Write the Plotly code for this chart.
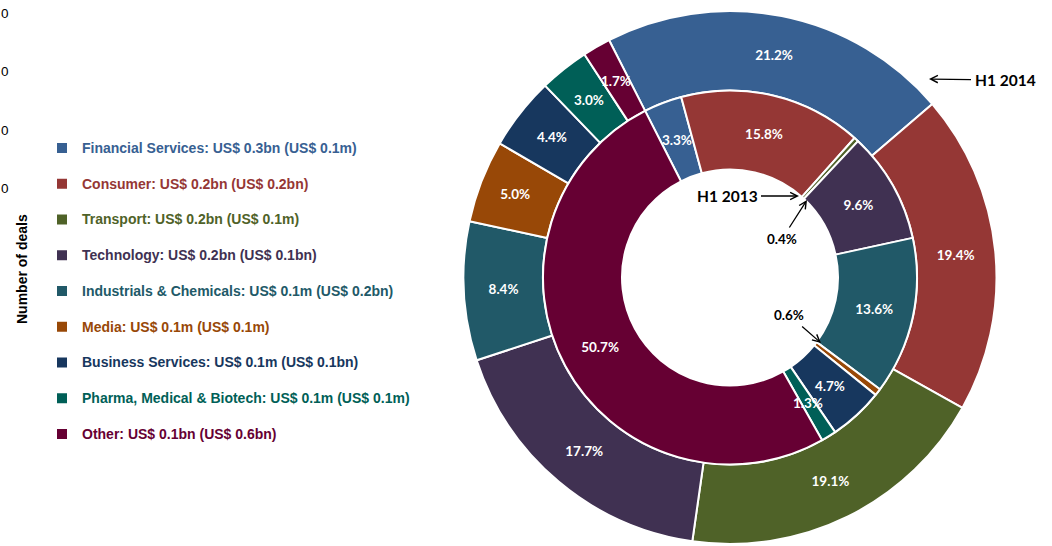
import math
import plotly.graph_objects as go

# ---------------- data ----------------
categories = ["Financial Services", "Consumer", "Transport", "Technology",
              "Industrials & Chemicals", "Media", "Business Services",
              "Pharma, Medical & Biotech", "Other"]
value_h1_2014 = ["US$ 0.3bn", "US$ 0.2bn", "US$ 0.2bn", "US$ 0.2bn", "US$ 0.1m",
                 "US$ 0.1m", "US$ 0.1m", "US$ 0.1m", "US$ 0.1bn"]
value_h1_2013 = ["US$ 0.1m", "US$ 0.2bn", "US$ 0.1m", "US$ 0.1bn", "US$ 0.2bn",
                 "US$ 0.1m", "US$ 0.1bn", "US$ 0.1m", "US$ 0.6bn"]
share_h1_2014 = [21.2, 19.4, 19.1, 17.7, 8.4, 5.0, 4.4, 3.0, 1.7]
share_h1_2013 = [3.3, 15.8, 0.4, 9.6, 13.6, 0.6, 4.7, 1.3, 50.7]
colors = ["#376092", "#953735", "#4F6228", "#403152", "#215968",
          "#984807", "#17375E", "#005F57", "#660033"]
axis_stub_ticks = ["0", "0", "0", "0"]
axis_title = "Number of deals"

# ---------------- layout helpers ----------------
W, H = 1052, 546


def px(x, y):
    return x / W, 1 - y / H


def dom(cx, cy, r):
    return dict(x=[(cx - r) / W, (cx + r) / W], y=[1 - (cy + r) / H, 1 - (cy - r) / H])


CX, CY = 730, 277.5
R_OUT, R_MID, R_HOLE = 266.5, 187, 108
ROTATION = -27
SMALL = 5.0     # slices below this get an Excel-style centred label
TINY = 1.0      # slices below this are labelled with an arrow

legend_labels = [
    f"<span style='color:{c};font-size:14px'><b>{cat}: {a} ({b})</b></span><br> "
    for cat, a, b, c in zip(categories, value_h1_2014, value_h1_2013, colors)
]

label_font = dict(family="Lato", size=13.5, color="white", weight="bold")


def inside_text(vals):
    return [f"{v:.1f}%" if v >= SMALL else "" for v in vals]


fig = go.Figure()
for vals, name, r_out, r_in in [(share_h1_2014, "H1 2014", R_OUT, R_MID),
                                (share_h1_2013, "H1 2013", R_MID, R_HOLE)]:
    fig.add_trace(go.Pie(
        labels=legend_labels, values=vals, name=name,
        text=inside_text(vals), textinfo="text", textposition="inside",
        insidetextorientation="horizontal", textfont=label_font,
        marker=dict(colors=colors, line=dict(color="white", width=2)),
        sort=False, direction="clockwise", rotation=ROTATION,
        hole=r_in / r_out, domain=dom(CX, CY, r_out), hoverinfo="label+value",
    ))

annotations = []

# centred labels for the narrow slices (placed mid-ring on the slice bisector, like Excel)
for vals, r_out, r_in in [(share_h1_2014, R_OUT, R_MID), (share_h1_2013, R_MID, R_HOLE)]:
    total = sum(vals)
    cum = 0.0
    for v in vals:
        mid = math.radians(ROTATION + (cum + v / 2) / total * 360)
        cum += v
        if TINY <= v < SMALL:
            r = (r_out + r_in) / 2
            x, y = px(CX + r * math.sin(mid), CY - r * math.cos(mid))
            annotations.append(dict(text=f"{v:.1f}%", x=x, y=y, xref="paper", yref="paper",
                                    xanchor="center", yanchor="middle",
                                    showarrow=False, font=label_font))

ann_font = dict(family="Lato", size=15.5, color="black", weight="bold")
small_font = dict(family="Lato", size=13.5, color="black", weight="bold")


def arrow_note(text, head, tail_center, font):
    hx, hy = px(*head)
    annotations.append(dict(
        text=text, x=hx, y=hy, xref="paper", yref="paper",
        ax=tail_center[0] - head[0], ay=tail_center[1] - head[1],
        xanchor="center", yanchor="middle",
        showarrow=True, arrowhead=5, arrowsize=1.1, arrowwidth=1.3,
        arrowcolor="black", font=font, borderpad=3,
    ))


arrow_note("H1 2014", (929, 79), (1005, 80), ann_font)
arrow_note("H1 2013", (799, 196), (727, 196), ann_font)
arrow_note(f"{share_h1_2013[2]:.1f}%", (807, 200), (782, 239), small_font)
arrow_note(f"{share_h1_2013[5]:.1f}%", (821, 343), (789, 315), small_font)

for t, yy in zip(axis_stub_ticks, [13, 72, 130, 188]):
    x0, y0 = px(0, yy)
    annotations.append(dict(text=t, x=x0, y=y0, xref="paper", yref="paper",
                            xanchor="left", yanchor="middle", showarrow=False, borderpad=0,
                            font=dict(family="Liberation Sans", size=13.5, color="black")))
x0, y0 = px(22, 269)
annotations.append(dict(text=f"<b>{axis_title}</b>", x=x0, y=y0, xref="paper", yref="paper",
                        textangle=-90, showarrow=False, xanchor="center", yanchor="middle",
                        font=dict(family="Liberation Sans", size=14, color="black")))

lx, ly = px(42, 133.3)
fig.update_layout(
    width=W, height=H,
    margin=dict(l=0, r=0, t=0, b=0),
    paper_bgcolor="white", plot_bgcolor="white",
    showlegend=True,
    legend=dict(x=lx, y=ly, xanchor="left", yanchor="top", valign="top",
                font=dict(family="Liberation Sans", size=12.6, color="black"),
                bgcolor="rgba(0,0,0,0)", traceorder="normal"),
    uniformtext=dict(minsize=13, mode="show"),
    annotations=annotations,
)

fig.write_html("out.html", config={"displayModeBar": False},
               post_script="document.body.style.margin='0';document.body.style.overflow='hidden';")
